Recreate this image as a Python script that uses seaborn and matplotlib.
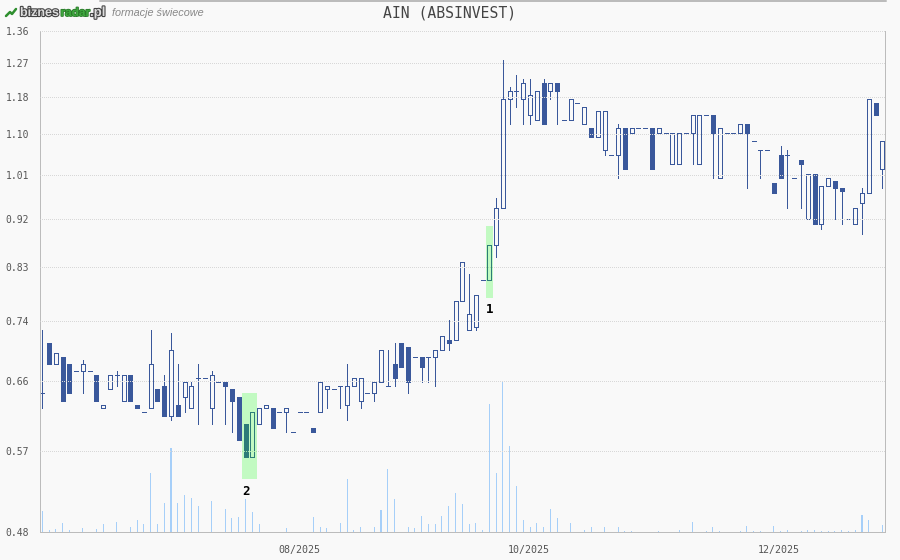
import matplotlib
matplotlib.use("Agg")
import matplotlib.pyplot as plt
import matplotlib.patheffects as pe
from matplotlib.lines import Line2D
from matplotlib.ticker import NullLocator
import numpy as np
import pandas as pd
import seaborn as sns

# candles
opens = [.64, .71, .68, .69, .68, .67, .67, .67, .665, .62,
         .645, .665, .63, .665, .625, .615, .62, .645, .65, .61,
         .625, .635, .62, .66, .66, .62, .655, .655, .645, .635,
         .60, .56, .60, .62, .62, .615, .615, .59, .615, .615,
         .595, .615, .645, .645, .65, .625, .65, .63, .64, .64,
         .655, .65, .68, .71, .705, .69, .69, .69, .69, .70,
         .715, .715, .775, .73, .735, .81, .81, .87, .94, 1.18,
         1.20, 1.18, 1.14, 1.13, 1.22, 1.20, 1.22, 1.13, 1.13, 1.17,
         1.12, 1.11, 1.09, 1.06, 1.05, 1.05, 1.11, 1.10, 1.11, 1.11,
         1.11, 1.10, 1.10, 1.03, 1.03, 1.10, 1.10, 1.03, 1.14, 1.14,
         1.00, 1.10, 1.10, 1.10, 1.12, 1.08, 1.06, 1.06, .99, 1.05,
         1.05, 1.00, 1.04, .92, 1.01, .91, .985, .995, .98, .92,
         .91, .95, .97, 1.17, 1.02]
highs = [.73, .71, .695, .69, .68, .67, .685, .67, .665, .625,
         .665, .67, .665, .665, .625, .615, .73, .645, .665, .725,
         .68, .655, .655, .68, .66, .67, .655, .655, .645, .635,
         .60, .615, .62, .625, .62, .615, .62, .59, .615, .615,
         .595, .655, .65, .645, .65, .68, .66, .66, .64, .655,
         .70, .70, .71, .71, .705, .69, .69, .69, .70, .72,
         .745, .775, .84, .82, .785, .81, .87, .96, 1.28, 1.21,
         1.24, 1.23, 1.23, 1.20, 1.23, 1.22, 1.22, 1.13, 1.18, 1.17,
         1.16, 1.11, 1.15, 1.15, 1.05, 1.12, 1.11, 1.11, 1.11, 1.11,
         1.11, 1.11, 1.10, 1.10, 1.10, 1.10, 1.14, 1.14, 1.14, 1.14,
         1.11, 1.10, 1.10, 1.12, 1.12, 1.08, 1.06, 1.06, .99, 1.07,
         1.06, 1.00, 1.04, 1.01, 1.01, .985, 1.00, .995, .98, .92,
         .94, .98, 1.18, 1.17, 1.08]
lows = [.62, .68, .68, .63, .64, .67, .64, .67, .63, .62,
        .645, .65, .63, .63, .62, .615, .62, .63, .61, .605,
        .61, .615, .62, .60, .66, .60, .655, .60, .59, .58,
        .56, .56, .60, .62, .595, .615, .59, .59, .615, .615,
        .59, .615, .62, .645, .62, .605, .65, .62, .64, .63,
        .655, .65, .65, .675, .64, .69, .655, .655, .65, .70,
        .70, .715, .775, .73, .73, .81, .81, .85, .94, 1.12,
        1.16, 1.12, 1.12, 1.13, 1.12, 1.18, 1.12, 1.13, 1.13, 1.17,
        1.12, 1.09, 1.09, 1.05, 1.05, 1.00, 1.02, 1.10, 1.11, 1.11,
        1.02, 1.10, 1.10, 1.03, 1.03, 1.10, 1.03, 1.03, 1.14, 1.00,
        1.00, 1.10, 1.10, 1.10, .98, 1.08, 1.00, 1.06, .97, 1.00,
        .94, 1.00, .94, .92, .91, .90, .985, .92, .91, .92,
        .91, .89, .97, 1.14, .98]
closes = [.64, .68, .695, .63, .64, .67, .68, .67, .63, .625,
          .665, .665, .665, .63, .62, .615, .68, .63, .61, .70,
          .61, .655, .65, .66, .66, .665, .655, .65, .63, .58,
          .56, .615, .62, .625, .595, .615, .62, .59, .615, .615,
          .59, .655, .65, .645, .65, .65, .66, .66, .64, .655,
          .70, .65, .66, .675, .655, .69, .675, .69, .70, .72,
          .71, .775, .84, .755, .785, .81, .87, .94, 1.18, 1.20,
          1.20, 1.22, 1.19, 1.20, 1.12, 1.22, 1.20, 1.13, 1.18, 1.17,
          1.16, 1.09, 1.15, 1.15, 1.05, 1.11, 1.02, 1.11, 1.11, 1.11,
          1.02, 1.11, 1.10, 1.10, 1.10, 1.10, 1.14, 1.14, 1.14, 1.10,
          1.11, 1.10, 1.10, 1.12, 1.10, 1.08, 1.06, 1.06, .97, 1.00,
          1.05, 1.00, 1.03, 1.01, .91, .985, 1.00, .98, .975, .92,
          .94, .97, 1.18, 1.14, 1.08]
# volume, arbitrary units (no scale on the chart)
volumes = [21, 1.5, 2.5, 9, 1.5, 0, 3.5, 0, 2.5, 7.5,
           0, 10, 0, 4.5, 11.5, 7.5, 59, 7.5, 29, 84,
           29, 37, 34, 26, 0, 31, 0, 23, 14, 15,
           33, 20, 7.5, 0, 0, 0, 3.5, 0, 0, 0,
           15, 5, 3.5, 0, 9, 53, 1.5, 4.5, 0, 4.5,
           22, 63, 33, 0, 4.5, 3.5, 16, 7.5, 7.5, 16,
           26, 39, 28, 7.5, 8.5, 1.5, 128, 59, 151, 86,
           46, 12, 5, 9, 5, 23, 14, 0, 8.5, 0,
           1.5, 4.5, 0, 4.5, 0, 4.5, 1, 1, 0, 0,
           0, 1, 0, 0, 2, 0, 10, 0, 1, 5,
           1, 0, 0, 1, 6, 1, 1, 0, 6, 1,
           2, 0, 1, 2, 2, 1, 1, 1, 2, 1,
           2, 17, 12, 0, 7]
volume_top = 501

y_ticks = [1.36, 1.272, 1.184, 1.096, 1.008, .92, .832, .744, .656, .568, .48]
y_labels = ["1.36", "1.27", "1.18", "1.10", "1.01", "0.92", "0.83", "0.74", "0.66", "0.57", "0.48"]
x_ticks = [37.9, 71.8, 108.7]
x_labels = ["08/2025", "10/2025", "12/2025"]

# candlestick patterns: number, first/last x, lower/upper price of the band
pattern_names = ["1", "2"]
pattern_x0 = [65.5, 29.5]
pattern_x1 = [66.5, 31.7]
pattern_lo = [.78, .535]
pattern_hi = [.905, .64]

BG = "#f9f9f9"
BLUE = "#3a589b"
VOL = "#a6cff9"
GRID = "#d8d8d8"
AXIS = "#bcbcbc"
PX = 0.72  # one pixel in points at dpi 100

sns.set_theme(style="white", rc={"figure.facecolor": BG, "axes.facecolor": BG})
plt.rcParams["font.family"] = ["DejaVu Sans Mono"]

W, H = 900, 560
rect = [39.5 / W, 1 - 531.5 / H, 846 / W, 501 / H]
fig = plt.figure(figsize=(9, 5.6), dpi=100)

df = pd.DataFrame({"i": np.arange(len(opens)), "open": opens, "high": highs,
                   "low": lows, "close": closes, "volume": volumes})
xlim = (-0.41, 124.47)

# volume goes on its own linear axes under the price axes
ax_vol = fig.add_axes(rect)
sns.barplot(data=df, x="i", y="volume", native_scale=True, color=VOL, saturation=1,
            width=0.15, linewidth=0, antialiased=False, ax=ax_vol)
ax_vol.set_xlim(xlim)
ax_vol.set_ylim(0, volume_top)
ax_vol.axis("off")

ax = fig.add_axes(rect)
ax.patch.set_visible(False)
ax.set_yscale("log")

ax.vlines(df["i"], df["low"], df["high"], color=BLUE, lw=PX, antialiased=False, zorder=1)
faces = [BLUE if o > c else BG for o, c in zip(opens, closes)]
ax.bar(df["i"], df["close"] - df["open"], bottom=df["open"], width=0.59, color=faces,
       edgecolor=BLUE, linewidth=PX, antialiased=False, zorder=1.5)

for name, x0, x1, lo, hi in zip(pattern_names, pattern_x0, pattern_x1, pattern_lo, pattern_hi):
    ax.fill_between([x0, x1], lo, hi, color="#00ff00", alpha=0.22, linewidth=0, zorder=3)
    # the number sits under the first candle of the pattern
    ax.annotate(name, (x0 + 0.5, lo), xytext=(0, -4), textcoords="offset points",
                ha="center", va="top", fontsize=9, fontweight="bold", color="black")

ax.set_xlim(xlim)
ax.set_ylim(0.48, 1.36)
ax.yaxis.set_minor_locator(NullLocator())
ax.set_yticks(y_ticks, y_labels)
ax.set_xticks(x_ticks, x_labels)
ax.set_xticks(xlim, minor=True)
ax.tick_params(axis="y", which="major", length=3.6, width=PX, color=AXIS, labelsize=7,
               labelcolor="#555555", pad=3.7)
ax.tick_params(axis="x", which="major", length=0, labelsize=7.2, labelcolor="#555555", pad=9.5)
ax.tick_params(axis="x", which="minor", length=3.6, width=PX, color=AXIS)
# half a dash of offset puts the dots on whole pixels
ax.grid(axis="y", color=GRID, lw=PX, linestyle=(0.5, (1, 1)), zorder=2.5)
ax.set_axisbelow(False)
for side, spine in ax.spines.items():
    spine.set_visible(side != "top")
    spine.set_color(AXIS)
    spine.set_linewidth(PX)

# page furniture
fig.add_artist(Line2D([100 / W, 885.5 / W], [1 - 0.5 / H] * 2, color=AXIS, lw=PX * 2))
fig.text(450 / W, 1 - 12.5 / H, "AIN (ABSINVEST)", ha="center", va="center",
         fontsize=10.6, color="#444444")
outline = [pe.withStroke(linewidth=1.6, foreground="#444444")]
logo_y = 1 - 13 / H
fig.text(20 / W, logo_y, "biznes", family="Liberation Sans", fontweight="bold", fontsize=9,
         color="#dddddd", va="center", path_effects=outline)
fig.text(60.5 / W, logo_y, "radar", family="Liberation Sans", fontweight="bold", fontsize=8.5,
         color="#3fa93f", va="center", path_effects=[pe.withStroke(linewidth=1.2, foreground="#2a7a2a")])
fig.text(90 / W, logo_y, ".pl", family="Liberation Sans", fontweight="bold", fontsize=9.5,
         color="#dddddd", va="center", path_effects=outline)
fig.text(112 / W, logo_y, "formacje świecowe", family="Liberation Sans", style="italic",
         fontsize=7.85, color="#888888", va="center")
fig.add_artist(Line2D(np.array([6, 10, 12, 16]) / W, 1 - np.array([16, 12, 14, 9]) / H,
                      color="#2f8f2f", lw=1.8))

fig.savefig("out.png", dpi=100, facecolor=BG)
